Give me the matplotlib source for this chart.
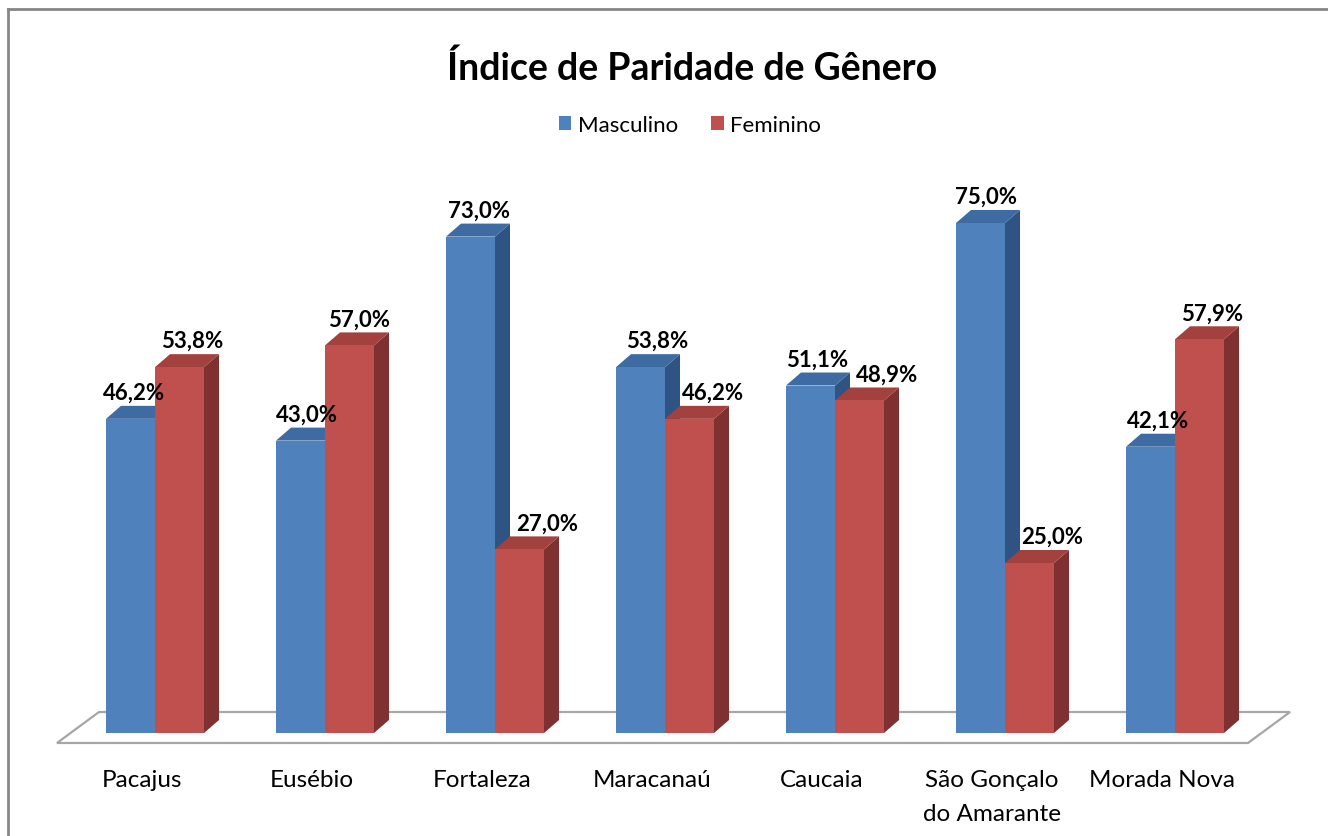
import matplotlib
matplotlib.use("Agg")
import matplotlib.pyplot as plt
from matplotlib.patches import Polygon, Rectangle
from matplotlib.lines import Line2D

# ---- data ----
categories = ["Pacajus", "Eusébio", "Fortaleza", "Maracanaú", "Caucaia",
              "São Gonçalo\ndo Amarante", "Morada Nova"]
masculino = [46.2, 43.0, 73.0, 53.8, 51.1, 75.0, 42.1]
feminino = [53.8, 57.0, 27.0, 46.2, 48.9, 25.0, 57.9]
series_names = ["Masculino", "Feminino"]
title = "Índice de Paridade de Gênero"

# ---- style ----
W, H = 1328, 837
FONT = ["Lato", "DejaVu Sans"]
front_cols = ["#4F81BD", "#C0504D"]
top_cols = ["#3E6BA1", "#A2413E"]
side_cols = ["#2F5483", "#7E3130"]
# label x nudges (pixels) to mimic the reference label placement
nudge_px = [[4, 6, 9, 17, 7, 6, 8], [13, 10, 28, 24, 28, 23, 13]]

# pixel geometry
X0_PX, STEP_PX = 155, 170        # group split x, group spacing
Y0_PX, PX_PER = 734, 6.8         # baseline y (from top), px per %
BAR_PX, DX_PX, DY_PX = 49, 15, 13

fig = plt.figure(figsize=(W / 100, H / 100), dpi=100)
ax = fig.add_axes([0, 0, 1, 1])
ax.set_xlim((0 - X0_PX) / STEP_PX, (W - X0_PX) / STEP_PX)
ax.set_ylim((Y0_PX - H) / PX_PER, Y0_PX / PX_PER)
ax.axis("off")

ux = 1 / STEP_PX
uy = 1 / PX_PER
bw = BAR_PX * ux
dx = DX_PX * ux
dy = DY_PX * uy

# floor
fl = [(57, 744), (1248, 744), (1290, 713), (99, 713)]
fl_d = [((x - X0_PX) * ux, (Y0_PX - y) * uy) for x, y in fl]
ax.add_patch(Polygon(fl_d, closed=True, facecolor="white", edgecolor="#A6A6A6",
                     lw=1.6, zorder=1))

series = [masculino, feminino]
for i in range(len(categories)):
    for s in range(2):
        v = series[s][i]
        x0 = i - bw if s == 0 else i
        x1 = x0 + bw
        z = 2 + i * 3 + s
        # side face
        ax.add_patch(Polygon([(x1, 0), (x1 + dx, dy), (x1 + dx, v + dy), (x1, v)],
                             closed=True, facecolor=side_cols[s], edgecolor="none",
                             zorder=z))
        # top face
        ax.add_patch(Polygon([(x0, v), (x1, v), (x1 + dx, v + dy), (x0 + dx, v + dy)],
                             closed=True, facecolor=top_cols[s], edgecolor="none",
                             zorder=z))
        # front face
        ax.bar(x0, v, width=bw, align="edge", color=front_cols[s], edgecolor="none",
               zorder=z + 0.5)
        # label
        lx = (x0 + x1) / 2 + nudge_px[s][i] * ux
        ax.text(lx, v + dy + 3 * uy, f"{v:.1f}%".replace(".", ","),
                ha="center", va="bottom", fontsize=16, fontweight="bold",
                family=FONT, color="black", zorder=50)

# category labels (one text per line, baselines 34 px apart)
for i, c in enumerate(categories):
    for k, line in enumerate(c.split("\n")):
        ax.text(i - 13 * ux, (Y0_PX - 787 - 34 * k) * uy, line, ha="center",
                va="baseline", fontsize=17.5, family=FONT, color="black")

# title
fig.text(692 / W, 1 - 68 / H, title, ha="center", va="center", fontsize=27,
         fontweight="bold", family=FONT, color="black")

# legend
handles = [Rectangle((0, 0), 1, 1, facecolor=front_cols[k], edgecolor="none")
           for k in range(2)]
fig.legend(handles, series_names, loc="center", bbox_to_anchor=(690 / W, 1 - 126 / H),
           ncol=2, frameon=False, prop={"family": FONT, "size": 16},
           handlelength=0.55, handleheight=0.55, handletextpad=0.3, columnspacing=1.5)

# chart border (top & left)
fig.add_artist(Line2D([8 / W, 1], [1 - 10 / H, 1 - 10 / H], color="#868686", lw=2,
                      transform=fig.transFigure))
fig.add_artist(Line2D([8 / W, 8 / W], [0, 1 - 10 / H], color="#868686", lw=2,
                      transform=fig.transFigure))

fig.savefig("out.png", dpi=100, facecolor="white")
